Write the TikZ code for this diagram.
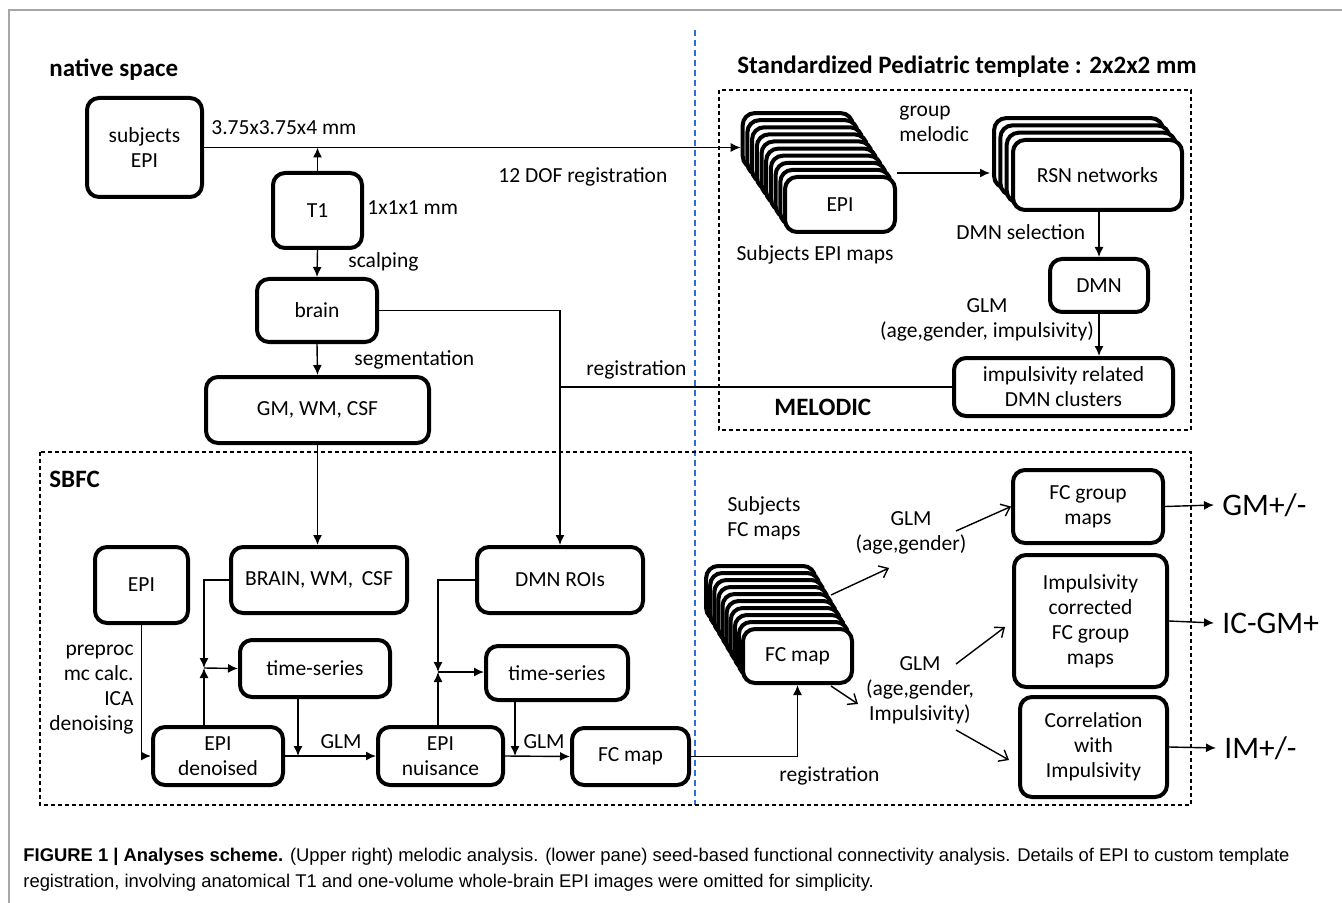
\documentclass[tikz,border=0pt]{standalone}
\usepackage{fontspec}
\setmainfont{Carlito}
\newfontfamily\capfont{Liberation Sans}
\usetikzlibrary{calc}
\usetikzlibrary{arrows.meta}

\definecolor{sepblue}{RGB}{45,110,215}
\newcommand{\lbl}{\fontsize{10.75}{12.5}\selectfont}
\newcommand{\hdr}{\fontsize{12.5}{15}\selectfont\bfseries}
\newcommand{\outlbl}{\fontsize{15.7}{18}\selectfont}

\begin{document}
\begin{tikzpicture}[x=0.5pt, y=-0.5pt,
    box/.style={draw, line width=2pt, rounded corners=6pt, fill=white, align=center, inner sep=0pt, font=\lbl},
    txt/.style={font=\lbl, inner sep=0pt, align=center},
    link/.style={line width=0.7pt, -{Latex[length=5pt,width=4.5pt]}},
    barb/.style={line width=0.7pt, -{Straight Barb[length=4pt,width=6.5pt]}},
    region/.style={draw, line width=0.7pt, dash pattern=on 2pt off 1.5pt}]
\useasboundingbox (0,0) rectangle (1342,903);

\draw[gray!70, line width=1pt] (9,903) -- (9,10) -- (1342,10);
\draw[sepblue, line width=0.6pt, dash pattern=on 3pt off 2pt] (695,30) -- (695,805);
\draw[region] (719,90) rectangle (1191,430);
\draw[region] (40,452) rectangle (1191,805);

% native space
\node[txt, anchor=west, font=\hdr] (natlbl) at (49,70) {native space};
\node[box, minimum width=57.5pt, minimum height=49.5pt] (subjepi) at (144.5,147.5) {subjects\\EPI};
\node[box, minimum width=44.5pt, minimum height=37.5pt] (tone) at (317.5,210.5) {T1};
\node[box, minimum width=60pt, minimum height=31.5pt] (brain) at (317,310.5) {brain};
\node[box, minimum width=111.5pt, minimum height=33pt] (gmwm) at (317.5,410) {GM, WM, CSF};
\node[txt, anchor=west] (reslow) at (211,128) {3.75x3.75x4 mm};
\node[txt, anchor=west] (reshigh) at (367,208) {1x1x1 mm};
\node[txt, anchor=west] (doflbl) at (498,177) {12 DOF registration};
\node[txt, anchor=west] (scalplbl) at (348,262) {scalping};
\node[txt, anchor=west] (seglbl) at (354,360) {segmentation};
\node[txt, anchor=west] (reglbl) at (586,370) {registration};

% template space
\node[txt, anchor=west, font=\hdr] (templbl) at (737,67) {Standardized Pediatric template : 2x2x2 mm};
\foreach \i in {9,...,1}
    \node[box, minimum width=55pt, minimum height=27.5pt] (epi\i) at ($(840,204.5)+(-4.7*\i,-7.1*\i)$) {};
\node[box, minimum width=55pt, minimum height=27.5pt] (epifront) at (840,204.5) {EPI};
\foreach \i in {3,...,1}
    \node[box, minimum width=84.5pt, minimum height=35pt] (rsn\i) at ($(1097.5,175)+(-6.3*\i,-7.3*\i)$) {};
\node[box, minimum width=84.5pt, minimum height=35pt] (rsnfront) at (1097.5,175) {RSN networks};
\node[box, minimum width=49pt, minimum height=26.5pt] (dmn) at (1099,285.5) {DMN};
\node[box, minimum width=109.5pt, minimum height=29pt] (impclus) at (1063.5,387) {impulsivity related\\DMN clusters};
\node[txt, anchor=west, align=left] (grplbl) at (899,124) {group\\melodic};
\node[txt] (epimaps) at (815,255) {Subjects EPI maps};
\node[txt, anchor=west] (sellbl) at (956,232) {DMN selection};
\node[txt] (glmtop) at (987,320) {GLM\\(age,gender, impulsivity)};
\node[txt, anchor=west, font=\hdr] (mellbl) at (774,407) {MELODIC};

\coordinate (melin) at (990,173);
\draw[link] (subjepi.east) -- (subjepi.east -| epi9.west);
\draw[link] (tone.north) -- (tone.north |- subjepi.east);
\draw[link] (tone.south) -- (brain.north);
\draw[link] (brain.south) -- (gmwm.north);
\draw[link] (melin -| epifront.east) -- (melin);
\draw[link] (dmn.north |- rsnfront.south) -- (dmn.north);
\draw[link] (dmn.south) -- (dmn.south |- impclus.north);

% SBFC
\node[txt, anchor=west, font=\hdr] (sbfclbl) at (49,479) {SBFC};
\node[box, minimum width=46.5pt, minimum height=38pt] (epi) at (141.5,585) {EPI};
\node[box, minimum width=88pt, minimum height=33pt] (brainwm) at (319,580) {BRAIN, WM,\, CSF};
\node[box, minimum width=75pt, minimum height=28.5pt] (tsone) at (315,668.5) {time-series};
\node[box, minimum width=65pt, minimum height=29pt] (epiden) at (218,756) {EPI\\denoised};
\node[box, minimum width=83pt, minimum height=33pt] (dmnroi) at (560,580) {DMN ROIs};
\node[box, minimum width=71pt, minimum height=27pt] (tstwo) at (557,673) {time-series};
\node[box, minimum width=62.5pt, minimum height=29pt] (epinuis) at (440.5,756) {EPI\\nuisance};
\node[box, minimum width=58.5pt, minimum height=28.5pt] (fcmap) at (630.5,756.5) {FC map};
\node[txt, anchor=east, align=right] (prelbl) at (134,690) {preproc\\mc calc.\\ICA\\denoising};
\node[txt] (glmone) at (341,742) {GLM};
\node[txt] (glmtwo) at (544,742) {GLM};
\node[txt, anchor=west] (reglow) at (779,776) {registration};

\coordinate (jone) at (204,668);
\coordinate (jtwo) at (438,672);
\coordinate (gone) at (298,756);
\coordinate (gtwo) at (515,756);

\draw[link] (gmwm.south) -- (gmwm.south |- brainwm.north);
\draw[link] (brain.east) -| (dmnroi.north);
\draw[line width=0.7pt] (dmnroi.north |- impclus.west) -- (impclus.west);
\draw[link] (epi.south) |- (epiden.west);
\draw[link] (brainwm.west) -| (jone);
\draw[link] (jone |- epiden.north) -- (jone);
\draw[link] (jone) -- (tsone.west);
\draw[link] (tsone.south -| gone) -- (gone);
\draw[link] (epiden.east) -- (epinuis.west);
\draw[link] (dmnroi.west) -| (jtwo);
\draw[link] (jtwo |- epinuis.north) -- (jtwo);
\draw[link] (jtwo) -- (tstwo.west |- jtwo);
\draw[link] (tstwo.south -| gtwo) -- (gtwo);
\draw[link] (epinuis.east) -- (fcmap.west);

% group level
\foreach \i in {9,...,1}
    \node[box, minimum width=54.5pt, minimum height=27pt] (fc\i) at ($(797.5,656)+(-4.1*\i,-7*\i)$) {};
\node[box, minimum width=54.5pt, minimum height=27pt] (fcfront) at (797.5,656) {FC map};
\node[box, minimum width=75pt, minimum height=36.5pt] (fcgroup) at (1088,506.5) {FC group\\maps};
\node[box, minimum width=76.5pt, minimum height=66pt] (impcorr) at (1090.5,621) {Impulsivity\\corrected\\FC group\\maps};
\node[box, minimum width=73.5pt, minimum height=50pt] (corrimp) at (1093.5,747) {Correlation\\with\\Impulsivity};
\node[txt] (fcmaps) at (764,518) {Subjects\\FC maps};
\node[txt] (glmage) at (911,533) {GLM\\(age,gender)};
\node[txt] (glmimp) at (920,690) {GLM\\(age,gender,\\Impulsivity)};
\node[txt, anchor=west, font=\outlbl, inner xsep=4pt] (gmout) at (1214,505) {GM+/-};
\node[txt, anchor=west, font=\outlbl, inner xsep=4pt] (icout) at (1214,623) {IC-GM+};
\node[txt, anchor=west, font=\outlbl, inner xsep=4pt] (imout) at (1216,748) {IM+/-};

\coordinate (aone) at (831,595);
\coordinate (atwo) at (889,568);
\coordinate (athree) at (956,531);
\coordinate (afour) at (831,686);
\coordinate (afive) at (858,704);
\coordinate (asix) at (956,664);
\coordinate (aseven) at (1005,627);
\coordinate (aeight) at (956,730);
\coordinate (anine) at (1009,760);

\draw[link] (fcmap.east) -| (fcfront.south);
\draw[barb] (aone) -- (atwo);
\draw[barb] (athree) -- (fcgroup.west);
\draw[barb] (afour) -- (afive);
\draw[barb] (asix) -- (aseven);
\draw[barb] (aeight) -- (anine);
\draw[link] (fcgroup.east) -- (gmout.west);
\draw[link] (impcorr.east) -- (icout.west);
\draw[link] (corrimp.east) -- (imout.west);

% caption
\node[anchor=west, inner sep=0pt, align=left, font=\capfont\fontsize{9.2}{13}\selectfont] (caption) at (23,870)
    {\textbf{FIGURE 1 | Analyses scheme.} (Upper right) melodic analysis. (lower pane) seed-based functional connectivity analysis. Details of EPI to custom template\\
     registration, involving anatomical T1 and one-volume whole-brain EPI images were omitted for simplicity.};
\end{tikzpicture}
\end{document}
